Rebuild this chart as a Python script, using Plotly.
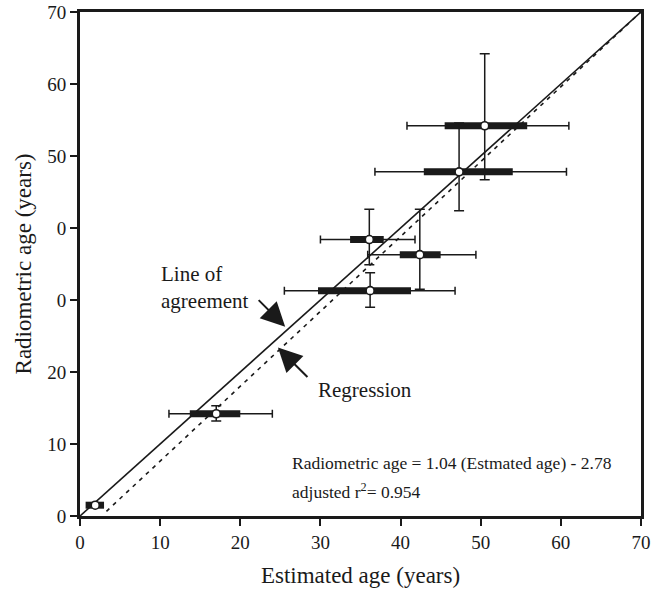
import plotly.graph_objects as go

# ---- data ----
est_age      = [1.9, 17.0, 36.2, 36.1, 42.4, 47.3, 50.5]
rad_age      = [1.5, 14.2, 31.3, 38.4, 36.3, 47.8, 54.2]
est_thin_lo  = [1.9, 11.1, 25.5, 30.0, 35.9, 36.8, 40.8]
est_thin_hi  = [1.9, 24.0, 46.8, 41.8, 49.4, 60.7, 61.0]
est_thick_lo = [0.7, 13.7, 29.7, 33.7, 39.9, 42.9, 45.5]
est_thick_hi = [3.0, 20.0, 41.3, 37.9, 45.0, 54.0, 55.8]
rad_lo       = [1.5, 13.2, 29.0, 34.9, 31.5, 42.4, 46.7]
rad_hi       = [1.5, 15.3, 33.8, 42.6, 42.6, 54.6, 64.2]

slope, intercept = 1.04, -2.78
reg_x = [3.3, 70]
agree_x = [0, 70]

x_ticks = [0, 10, 20, 30, 40, 50, 60, 70]
y_ticks = [0, 10, 20, 30, 40, 50, 60, 70]
y_tick_text = ["0", "10", "20", "0", "0", "50", "60", "70"]

INK = "#1a1a1a"
FONT = "Liberation Serif"

fig = go.Figure()

# line of agreement
fig.add_trace(go.Scatter(x=agree_x, y=agree_x, mode="lines",
                         line=dict(color=INK, width=1.6), hoverinfo="skip"))
# regression line
fig.add_trace(go.Scatter(x=reg_x, y=[slope * v + intercept for v in reg_x], mode="lines",
                         line=dict(color=INK, width=1.6, dash="4px,5px"), hoverinfo="skip"))

# thick bars
tx, ty = [], []
for lo, hi, yv in zip(est_thick_lo, est_thick_hi, rad_age):
    tx += [lo, hi, None]
    ty += [yv, yv, None]
fig.add_trace(go.Scatter(x=tx, y=ty, mode="lines",
                         line=dict(color=INK, width=7), hoverinfo="skip"))

# points with thin error bars
fig.add_trace(go.Scatter(
    x=est_age, y=rad_age, mode="markers",
    marker=dict(symbol="circle", size=8, color="white", line=dict(color=INK, width=1.6)),
    error_x=dict(type="data", symmetric=False,
                 array=[h - c for h, c in zip(est_thin_hi, est_age)],
                 arrayminus=[c - l for l, c in zip(est_thin_lo, est_age)],
                 color=INK, thickness=1.5, width=4),
    error_y=dict(type="data", symmetric=False,
                 array=[h - c for h, c in zip(rad_hi, rad_age)],
                 arrayminus=[c - l for l, c in zip(rad_lo, rad_age)],
                 color=INK, thickness=1.5, width=5),
))

axis_common = dict(showline=True, linecolor=INK, linewidth=3, mirror=True,
                   ticks="outside", ticklen=7, tickwidth=2, tickcolor=INK,
                   showgrid=False, zeroline=False, automargin=False,
                   tickfont=dict(family=FONT, size=19, color=INK))

fig.update_xaxes(range=[0, 70], tickvals=x_ticks, **axis_common,
                 title=dict(text="Estimated age (years)", standoff=16,
                            font=dict(family=FONT, size=23, color=INK)))
fig.update_yaxes(range=[0, 70], tickvals=y_ticks, ticktext=y_tick_text, **axis_common,
                 title=dict(text="Radiometric age (years)", standoff=10,
                            font=dict(family=FONT, size=23, color=INK)))

annots = [
    dict(x=9.86, y=31.8, xref="x", yref="y", text="Line of<br>agreement", showarrow=False,
         xanchor="left", yanchor="middle", align="left",
         font=dict(family=FONT, size=21, color=INK)),
    dict(x=29.5, y=17.5, xref="x", yref="y", text="Regression", showarrow=False,
         xanchor="left", yanchor="middle",
         font=dict(family=FONT, size=21, color=INK)),
    dict(x=25.6, y=26.3, xref="x", yref="y", text="", showarrow=True,
         ax=-28, ay=-28, arrowhead=2, arrowsize=2.4, arrowwidth=2, arrowcolor=INK, standoff=0),
    dict(x=24.7, y=23.4, xref="x", yref="y", text="", showarrow=True,
         ax=31, ay=31, arrowhead=2, arrowsize=2.4, arrowwidth=2, arrowcolor=INK, standoff=0),
    dict(x=26.2, y=7.36, xref="x", yref="y",
         text="Radiometric age = 1.04 (Estmated age) - 2.78", showarrow=False,
         xanchor="left", yanchor="middle", font=dict(family=FONT, size=17.5, color=INK)),
    dict(x=26.2, y=3.5, xref="x", yref="y",
         text="adjusted r<sup>2</sup>= 0.954", showarrow=False,
         xanchor="left", yanchor="middle", font=dict(family=FONT, size=17.5, color=INK)),
]

fig.update_layout(
    width=651, height=592,
    margin=dict(l=80, r=10, t=12, b=76),
    paper_bgcolor="white", plot_bgcolor="white",
    showlegend=False,
    annotations=annots,
    font=dict(family=FONT, color=INK),
)

fig.write_html("out.html", config={"displayModeBar": False},
               post_script="document.body.style.margin='0';document.body.style.overflow='hidden';")
